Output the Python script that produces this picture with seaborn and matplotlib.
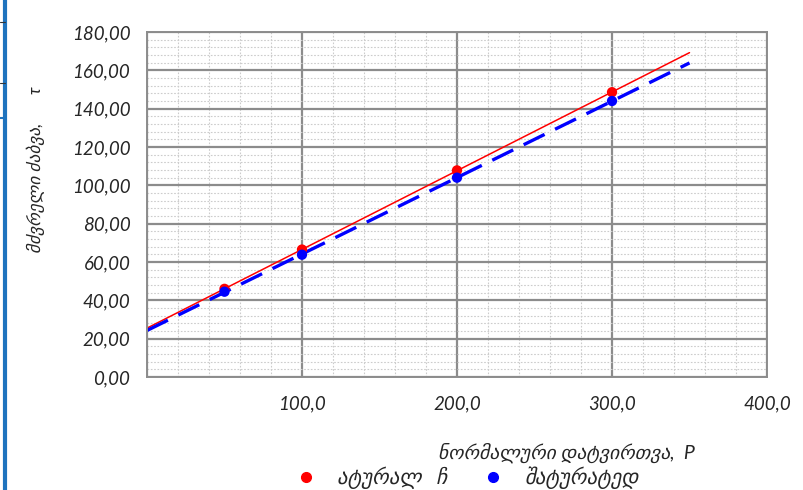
import pandas as pd
import numpy as np
import seaborn as sns
import matplotlib.pyplot as plt
from matplotlib.ticker import MultipleLocator, FuncFormatter
from matplotlib.lines import Line2D

# dati
load_p = [50, 100, 200, 300]
tau_actual = [46.0, 66.5, 107.8, 148.6]
tau_saturated = [44.5, 63.8, 104.0, 144.0]

label_actual = "ატურალ   ჩ"
label_saturated = "შატურატედ"
x_title = "ნორმალური დატვირთვა,  P"
y_title = "მძვრელი ძაბვა,       τ"

df = pd.DataFrame({"P": load_p, "actual": tau_actual, "saturated": tau_saturated})

sns.set_style("white")
plt.rcParams['font.family'] = ['Lato', 'DejaVu Sans']

fig = plt.figure(figsize=(8.04, 4.90), dpi=100)
ax = fig.add_axes([0.1828, 0.2306, 0.7712, 0.7041])

# linee di tendenza (regressione lineare) fino a P=350
ax.set_xlim(0, 350)
sns.regplot(data=df, x="P", y="actual", scatter=False, ci=None, truncate=False,
            color="red", line_kws={"lw": 1.1}, ax=ax)
sns.regplot(data=df, x="P", y="saturated", scatter=False, ci=None, truncate=False,
            color="blue", line_kws={"lw": 2.4, "dashes": (7, 3.5)}, ax=ax)

# punti
sns.scatterplot(data=df, x="P", y="actual", color="red", s=55, edgecolor="none",
                ax=ax, zorder=5)
sns.scatterplot(data=df, x="P", y="saturated", color="blue", s=55, edgecolor="none",
                ax=ax, zorder=5)

ax.set_xlim(0, 400)
ax.set_ylim(0, 180)

ax.xaxis.set_major_locator(MultipleLocator(100))
ax.xaxis.set_minor_locator(MultipleLocator(20))
ax.yaxis.set_major_locator(MultipleLocator(20))
ax.yaxis.set_minor_locator(MultipleLocator(4))

ax.grid(which="minor", color="#cccccc", ls=(0, (1.5, 1.5)), lw=0.8)
ax.grid(which="major", color="#8c8c8c", ls="-", lw=1.6)
ax.set_axisbelow(True)

for s in ax.spines.values():
    s.set_color("#8c8c8c")
    s.set_linewidth(1.4)

ax.xaxis.set_major_formatter(FuncFormatter(lambda v, p: "" if v == 0 else f"{v:.1f}".replace(".", ",")))
ax.yaxis.set_major_formatter(FuncFormatter(lambda v, p: f"{v:.2f}".replace(".", ",")))

ax.tick_params(axis="x", which="major", direction="out", length=10, width=1.2,
               color="#8c8c8c", pad=3, labelsize=13.5)
ax.tick_params(axis="y", which="major", direction="out", length=7, width=1.2,
               color="#8c8c8c", pad=5, labelsize=13.5)
ax.tick_params(which="minor", length=0)
for t in ax.get_xticklabels() + ax.get_yticklabels():
    t.set_fontstyle("italic")

ax.set_xlabel(x_title, fontsize=14, style="italic")
ax.set_ylabel(y_title, fontsize=12.5, style="italic")
ax.xaxis.set_label_coords(0.677, -0.19)
ax.yaxis.set_label_coords(-0.165, 0.60)

handles = [
    Line2D([], [], ls="none", marker="o", color="red", markersize=7),
    Line2D([], [], ls="none", marker="o", color="blue", markersize=7),
]
if ax.get_legend() is not None:
    ax.get_legend().remove()
leg = fig.legend(handles, [label_actual, label_saturated], ncol=2, frameon=False,
                 loc="center", bbox_to_anchor=(0.575, 0.025),
                 handletextpad=0.5, columnspacing=1.2, prop={"style": "italic", "size": 15})

# bordo dello screenshot a sinistra
fig.add_artist(Line2D([0.006, 0.006], [0, 1], color="#1e73be", lw=3))
fig.add_artist(Line2D([0, 0.006], [0.955, 0.955], color="#333333", lw=0.8))
fig.add_artist(Line2D([0, 0.006], [0.83, 0.83], color="#333333", lw=0.8))
fig.add_artist(Line2D([0, 0.006], [0.76, 0.76], color="#1e73be", lw=1.5))

plt.savefig("out.png", dpi=100, facecolor="white")
